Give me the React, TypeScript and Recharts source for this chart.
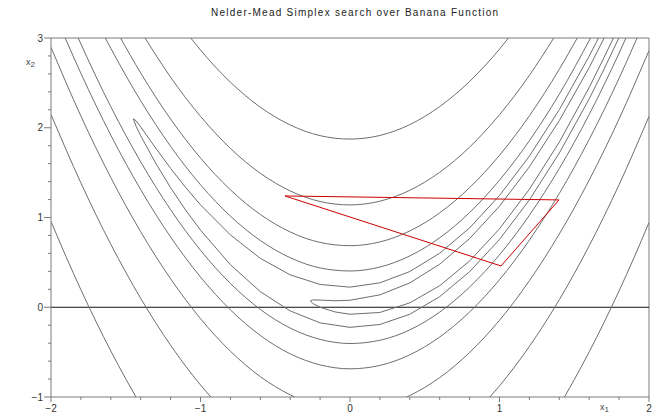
import { LineChart, Line, XAxis, YAxis, ReferenceLine } from "recharts"

// contour pieces as [x1, x2] pairs
const tongueLow = [[1.70, 3.0], [1.6, 2.67], [1.4, 2.08], [1.2, 1.565], [1.0, 1.126], [0.8, 0.765], [0.6, 0.48], [0.4, 0.271], [0.2, 0.138], [0, 0.078], [-0.1, 0.072], [-0.2, 0.08], [-0.25, 0.082], [-0.265, 0.07], [-0.25, 0.043], [-0.2, 0.0], [-0.1, -0.052], [0, -0.078], [0.2, -0.058], [0.4, 0.049], [0.6, 0.24], [0.8, 0.515], [1.0, 0.874], [1.2, 1.315], [1.4, 1.84], [1.6, 2.449], [1.7, 2.785], [1.762, 3.0]]
const tongueHigh = [[1.662, 3.0], [1.6, 2.798], [1.4, 2.202], [1.2, 1.684], [1.0, 1.245], [0.8, 0.884], [0.6, 0.602], [0.4, 0.398], [0.2, 0.272], [0, 0.224], [-0.2, 0.254], [-0.4, 0.361], [-0.6, 0.545], [-0.8, 0.806], [-1.0, 1.141], [-1.1, 1.336], [-1.2, 1.548], [-1.3, 1.774], [-1.4, 2.009], [-1.43, 2.076], [-1.449, 2.1], [-1.43, 2.014], [-1.4, 1.911], [-1.3, 1.606], [-1.2, 1.332], [-1.1, 1.084], [-1.0, 0.859], [-0.8, 0.474], [-0.6, 0.174], [-0.4, -0.041], [-0.2, -0.174], [0, -0.224], [0.2, -0.192], [0.4, -0.078], [0.6, 0.118], [0.8, 0.396], [1.0, 0.755], [1.2, 1.196], [1.4, 1.718], [1.6, 2.322], [1.7, 2.655], [1.798, 3.0]]

const c17Upper = [[-1.637, 3.0], [-1.6, 2.885], [-1.4, 2.3], [-1.2, 1.793], [-1.0, 1.365], [-0.8, 1.015], [-0.6, 0.744], [-0.4, 0.552], [-0.2, 0.438], [0, 0.404], [0.2, 0.448], [0.4, 0.572], [0.6, 0.774], [0.8, 1.055], [1.0, 1.416], [1.2, 1.856], [1.4, 2.374], [1.609, 3.0]]
const c17Lower = [[-1.818, 3.0], [-1.7, 2.574], [-1.6, 2.235], [-1.4, 1.62], [-1.2, 1.087], [-1.0, 0.635], [-0.8, 0.265], [-0.6, -0.024], [-0.4, -0.232], [-0.2, -0.358], [0, -0.404], [0.2, -0.368], [0.4, -0.252], [0.6, -0.054], [0.8, 0.225], [1.0, 0.584], [1.2, 1.025], [1.4, 1.546], [1.6, 2.148], [1.7, 2.48], [1.8, 2.832], [1.846, 3.0]]

const c48Upper = [[-1.535, 3.0], [-1.4, 2.61], [-1.2, 2.097], [-1.0, 1.663], [-0.8, 1.309], [-0.6, 1.034], [-0.4, 0.839], [-0.2, 0.722], [0, 0.686], [0.2, 0.728], [0.4, 0.85], [0.6, 1.052], [0.8, 1.333], [1.0, 1.693], [1.2, 2.133], [1.4, 2.652], [1.52, 3.0]]
const c48Lower = [[-1.905, 3.0], [-1.8, 2.606], [-1.6, 1.918], [-1.4, 1.31], [-1.2, 0.783], [-1.0, 0.337], [-0.8, -0.029], [-0.6, -0.314], [-0.4, -0.519], [-0.2, -0.642], [0, -0.686], [0.2, -0.648], [0.4, -0.53], [0.6, -0.332], [0.8, -0.053], [1.0, 0.307], [1.2, 0.748], [1.4, 1.268], [1.6, 1.87], [1.8, 2.552], [1.92, 3.0]]

const c131Upper = [[-1.371, 3.0], [-1.2, 2.563], [-1.0, 2.127], [-0.8, 1.77], [-0.6, 1.493], [-0.4, 1.296], [-0.2, 1.178], [0, 1.14], [0.2, 1.182], [0.4, 1.303], [0.6, 1.504], [0.8, 1.784], [1.0, 2.145], [1.2, 2.584], [1.363, 3.0]]
const c131Left = [[-2, 2.896], [-1.8, 2.13], [-1.6, 1.445], [-1.4, 0.841], [-1.2, 0.317], [-1.0, -0.127], [-0.8, -0.49], [-0.6, -0.773], [-0.4, -0.976], [-0.37, -1.0]]
const c131Right = [[0.378, -1.0], [0.4, -0.983], [0.6, -0.784], [0.8, -0.504], [1.0, -0.145], [1.2, 0.296], [1.4, 0.816], [1.6, 1.417], [1.8, 2.098], [2.0, 2.86]]

const c352Upper = [[-1.065, 3.0], [-1.0, 2.866], [-0.9, 2.677], [-0.8, 2.508], [-0.6, 2.229], [-0.4, 2.031], [-0.2, 1.912], [0, 1.874], [0.2, 1.914], [0.4, 2.035], [0.6, 2.236], [0.8, 2.516], [0.9, 2.686], [1.0, 2.876], [1.06, 3.0]]
const c352Left = [[-2, 2.148], [-1.8, 1.385], [-1.6, 0.702], [-1.4, 0.099], [-1.2, -0.423], [-1.0, -0.866], [-0.931, -1.0]]
const c352Right = [[0.936, -1.0], [1.0, -0.876], [1.2, -0.436], [1.4, 0.084], [1.6, 0.685], [1.8, 1.366], [2.0, 2.127]]

const c935Left = [[-2, 0.957], [-1.9, 0.566], [-1.8, 0.195], [-1.7, -0.156], [-1.6, -0.487], [-1.5, -0.798], [-1.431, -1.0]]
const c935Right = [[1.4345, -1.0], [1.5, -0.807], [1.6, -0.497], [1.7, -0.167], [1.8, 0.183], [1.9, 0.553], [2.0, 0.944]]

const simplex = [[-0.435, 1.24], [1.398, 1.196], [1.01, 0.46], [-0.435, 1.24]]

const xTicks = [-2, -1.8, -1.6, -1.4, -1.2, -1, -0.8, -0.6, -0.4, -0.2, 0, 0.2, 0.4, 0.6, 0.8, 1, 1.2, 1.4, 1.6, 1.8, 2]
const yTicks = [-1, -0.8, -0.6, -0.4, -0.2, 0, 0.2, 0.4, 0.6, 0.8, 1, 1.2, 1.4, 1.6, 1.8, 2, 2.2, 2.4, 2.6, 2.8, 3]

const smoothPieces = [c17Upper, c17Lower, c48Upper, c48Lower, c131Upper, c131Left, c131Right, c352Upper, c352Left, c352Right, c935Left, c935Right]
const sharpPieces = [tongueLow, tongueHigh]

const toPts = (arr: number[][]) => arr.map(([x, y]) => ({ x, y }))
const isMajor = (v: number) => Math.abs(v - Math.round(v)) < 1e-6
const fmt = (v: number) => (v < 0 ? "\u2212" + Math.abs(Math.round(v)) : String(Math.round(v)))

const AXIS = "#7a7a7a"
const LINE = "#6e6e6e"
const FONT = "'Liberation Sans', Arial, sans-serif"

const XTick = ({ x, y, payload }: any) => {
    const major = isMajor(payload.value)
    return (
        <g>
            <line x1={x} x2={x} y1={y} y2={y + (major ? 5 : 3)} stroke={AXIS} />
            {major && (
                <text x={x} y={y + 14.5} textAnchor="middle" fontSize={10} fontFamily={FONT} fill="#333">
                    {fmt(payload.value)}
                </text>
            )}
        </g>
    )
}

const YTick = ({ x, y, payload }: any) => {
    const major = isMajor(payload.value)
    return (
        <g>
            <line x1={x} x2={x - (major ? 7 : 3)} y1={y} y2={y} stroke={AXIS} />
            {major && (
                <text x={x - 8} y={y + 3.5} textAnchor="end" fontSize={10} fontFamily={FONT} fill="#333">
                    {fmt(payload.value)}
                </text>
            )}
        </g>
    )
}

export default function App() {
    return (
        <div style={{ position: "absolute", left: 0, top: 0, width: 657, height: 416, background: "#fff" }}>
            <LineChart width={657} height={416} margin={{ top: 38, right: 8, bottom: 0, left: 0 }}>
                <XAxis type="number" dataKey="x" domain={[-2, 2]} ticks={xTicks} interval={0} allowDataOverflow
                    height={19} tickSize={0} tickMargin={0} tickLine={false} tick={<XTick />} stroke={AXIS} />
                <YAxis type="number" dataKey="y" domain={[-1, 3]} ticks={yTicks} interval={0} allowDataOverflow
                    width={51} tickSize={0} tickMargin={0} tickLine={false} tick={<YTick />} stroke={AXIS} />
                <ReferenceLine y={3} stroke={AXIS} />
                <ReferenceLine x={2} stroke={AXIS} />
                <ReferenceLine y={0} stroke="#111" />
                {smoothPieces.map((p, i) => (
                    <Line key={`s${i}`} data={toPts(p)} dataKey="y" type="monotone" stroke={LINE} strokeWidth={1}
                        dot={false} activeDot={false} isAnimationActive={false} />
                ))}
                {sharpPieces.map((p, i) => (
                    <Line key={`t${i}`} data={toPts(p)} dataKey="y" type="linear" stroke={LINE} strokeWidth={1}
                        dot={false} activeDot={false} isAnimationActive={false} />
                ))}
                <Line data={toPts(simplex)} dataKey="y" type="linear" stroke="#cc0000" strokeWidth={1}
                    dot={false} activeDot={false} isAnimationActive={false} />
            </LineChart>
            <svg width={657} height={416} style={{ position: "absolute", left: 0, top: 0, pointerEvents: "none" }}>
                <text x={211} y={16} fontSize={10} fontFamily={FONT} letterSpacing={1.25} fill="#222">
                    Nelder-Mead Simplex search over Banana Function
                </text>
                <text x={26} y={65} fontSize={9} fontFamily={FONT} fill="#444">
                    x<tspan fontSize={8} dy={2}>2</tspan>
                </text>
                <text x={600} y={410} fontSize={9} fontFamily={FONT} fill="#444">
                    x<tspan fontSize={8} dy={2}>1</tspan>
                </text>
            </svg>
        </div>
    )
}
